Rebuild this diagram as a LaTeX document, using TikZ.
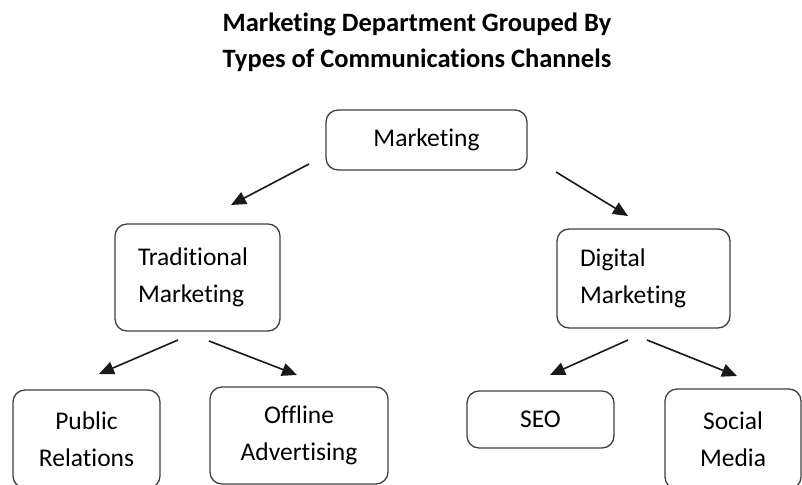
\documentclass[tikz,border=0pt]{standalone}
\usepackage{fontspec}
\setmainfont[Ligatures=NoCommon]{Carlito}
\usetikzlibrary{arrows.meta}
\begin{document}
\begin{tikzpicture}[x=1pt,y=-1pt,
  box/.style={draw=black!75, line width=1.3pt, rounded corners=12pt, font=\fontsize{25.5}{37}\selectfont, inner sep=0pt, align=center},
  leftbox/.style={box, align=left, inner xsep=23pt},
  conn/.style={draw=black!90, line width=1.6pt, -{Triangle[length=15pt,width=13pt]}}]
\useasboundingbox (0,0) rectangle (802,484);
\clip (0,0) rectangle (802,484);
\node[font=\bfseries\fontsize{26.5}{36}\selectfont, align=center] (title) at (417,42) {Marketing Department Grouped By\\Types of Communications Channels};
\node[box, minimum width=201pt, minimum height=60pt] (mkt) at (426.5,140) {Marketing};
\node[leftbox, text width=119pt, minimum height=107pt] (trad) at (197.5,277.5) {Traditional\\Marketing};
\node[leftbox, text width=127pt, minimum height=99pt] (dig) at (643.5,278.5) {Digital\\Marketing};
\node[box, minimum width=147pt, minimum height=98pt] (pr) at (86.5,439) {Public\\Relations};
\node[box, minimum width=178pt, minimum height=97pt] (off) at (299,435.5) {Offline\\Advertising};
\node[box, minimum width=147pt, minimum height=57pt] (seo) at (540.5,419.5) {SEO};
\node[box, minimum width=136pt, minimum height=100pt] (soc) at (733,439) {Social\\Media};
\coordinate (a1s) at (309,164); \coordinate (a1e) at (231,205);
\coordinate (a2s) at (556,172); \coordinate (a2e) at (628,216);
\coordinate (a3s) at (178,340); \coordinate (a3e) at (99,374);
\coordinate (a4s) at (209,341); \coordinate (a4e) at (297,375);
\coordinate (a5s) at (628,340); \coordinate (a5e) at (550,375);
\coordinate (a6s) at (647,340); \coordinate (a6e) at (737,376);
\draw[conn] (a1s) -- (a1e);
\draw[conn] (a2s) -- (a2e);
\draw[conn] (a3s) -- (a3e);
\draw[conn] (a4s) -- (a4e);
\draw[conn] (a5s) -- (a5e);
\draw[conn] (a6s) -- (a6e);
\end{tikzpicture}
\end{document}
